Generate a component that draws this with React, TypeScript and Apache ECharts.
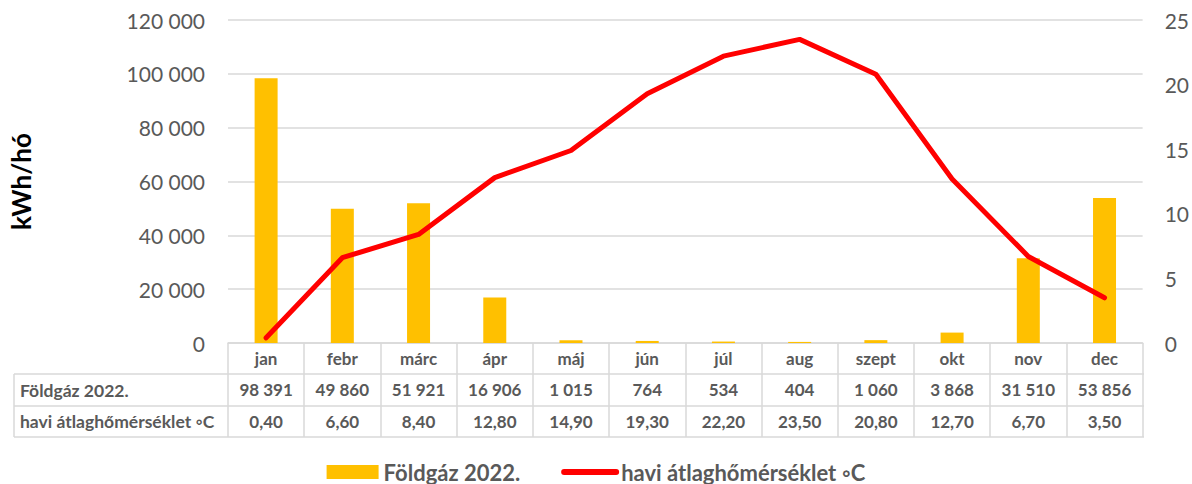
import React, { useEffect, useRef } from "react";
import * as echarts from "echarts";

const months = ["jan", "febr", "márc", "ápr", "máj", "jún", "júl", "aug", "szept", "okt", "nov", "dec"];
const gasValues = [98391, 49860, 51921, 16906, 1015, 764, 534, 404, 1060, 3868, 31510, 53856];
const tempValues = [0.4, 6.6, 8.4, 12.8, 14.9, 19.3, 22.2, 23.5, 20.8, 12.7, 6.7, 3.5];
const gasName = "Földgáz 2022.";
const tempName = "havi átlaghőmérséklet ◦C";
const yAxisTitle = "kWh/hó";

const FONT = 'Lato, "Open Sans", "Noto Sans", sans-serif';
const GRAY = "#595959";
const LINE = "#d9d9d9";

const GRID_LEFT = 221;
const GRID_RIGHT_X = 1144;
const GRID_TOP = 20;
const GRID_BOTTOM_Y = 343;
const ROW1 = 374;
const ROW2 = 406;
const ROW3 = 437;
const TABLE_LEFT = 14;

const fmtThousands = (n: number) => String(n).replace(/\B(?=(\d{3})+(?!\d))/g, " ");
const fmtTemp = (v: number) => v.toFixed(2).replace(".", ",");

export default function App() {
  const ref = useRef<HTMLDivElement>(null);

  useEffect(() => {
    if (!ref.current) return;
    const chart = echarts.init(ref.current, undefined, { renderer: "svg" });

    const tableLineStyle = { stroke: LINE, lineWidth: 1.5 };
    const hLine = (y: number) => ({
      type: "line",
      shape: { x1: TABLE_LEFT, y1: y, x2: GRID_RIGHT_X, y2: y },
      style: tableLineStyle,
      silent: true,
    });

    const rowLabel = (text: string, y: number) => ({
      type: "text",
      x: 20,
      y,
      style: {
        text,
        fontFamily: FONT,
        fontSize: 17.5,
        fontWeight: "bold",
        fill: GRAY,
        align: "left",
        verticalAlign: "middle",
      },
      silent: true,
    });

    const tableAxis = (data: string[], offset: number) => ({
      type: "category",
      data,
      position: "bottom",
      offset,
      gridIndex: 0,
      axisLine: { show: false },
      axisTick: { show: false },
      axisLabel: {
        interval: 0,
        margin: 15,
        verticalAlign: "middle",
        fontFamily: FONT,
        fontSize: 17,
        fontWeight: "bold",
        color: GRAY,
      },
      splitLine: { show: false },
    });

    chart.setOption({
      animation: false,
      backgroundColor: "#ffffff",
      textStyle: { fontFamily: FONT },
      grid: {
        left: GRID_LEFT,
        right: 1192 - GRID_RIGHT_X,
        top: GRID_TOP,
        bottom: 484 - GRID_BOTTOM_Y,
        containLabel: false,
      },
      legend: {
        left: "center",
        top: 456,
        itemWidth: 52,
        itemHeight: 14,
        itemGap: 41,
        textStyle: { fontFamily: FONT, fontSize: 22, fontWeight: "bold", color: GRAY },
        data: [
          { name: gasName, icon: "rect" },
          {
            name: tempName,
            itemStyle: { opacity: 0 },
            lineStyle: { width: 6, cap: "round", color: "#FF0000" },
          },
        ],
      },
      xAxis: [
        {
          type: "category",
          data: months,
          position: "bottom",
          axisLine: { show: true, lineStyle: { color: LINE, width: 1.5 } },
          axisTick: {
            show: true,
            interval: 0,
            alignWithLabel: false,
            inside: false,
            length: ROW3 - GRID_BOTTOM_Y,
            lineStyle: { color: LINE, width: 1.5 },
          },
          axisLabel: {
            interval: 0,
            margin: 15,
            verticalAlign: "middle",
            fontFamily: FONT,
            fontSize: 17,
            fontWeight: "bold",
            color: GRAY,
          },
        },
        tableAxis(gasValues.map(fmtThousands), ROW1 - GRID_BOTTOM_Y),
        tableAxis(tempValues.map(fmtTemp), ROW2 - GRID_BOTTOM_Y),
      ],
      yAxis: [
        {
          type: "value",
          min: 0,
          max: 120000,
          interval: 20000,
          name: yAxisTitle,
          nameLocation: "middle",
          nameRotate: 90,
          nameGap: 194,
          nameTextStyle: { fontFamily: FONT, fontSize: 26, fontWeight: "bold", color: "#000000" },
          axisLine: { show: false },
          axisTick: { show: false },
          axisLabel: {
            margin: 23,
            fontFamily: FONT,
            fontSize: 21,
            color: GRAY,
            formatter: (v: number) => fmtThousands(v),
          },
          splitLine: { show: true, lineStyle: { color: LINE, width: 1.5 } },
        },
        {
          type: "value",
          min: 0,
          max: 25,
          interval: 5,
          position: "right",
          axisLine: { show: false },
          axisTick: { show: false },
          axisLabel: { margin: 22, fontFamily: FONT, fontSize: 21, color: GRAY },
          splitLine: { show: false },
        },
      ],
      series: [
        {
          name: gasName,
          type: "bar",
          data: gasValues,
          xAxisIndex: 0,
          yAxisIndex: 0,
          barWidth: 23,
          itemStyle: { color: "#FFC000" },
        },
        {
          name: tempName,
          type: "line",
          data: tempValues,
          xAxisIndex: 0,
          yAxisIndex: 1,
          symbol: "none",
          lineStyle: { color: "#FF0000", width: 5, cap: "round", join: "round" },
          itemStyle: { color: "#FF0000" },
        },
      ],
      graphic: [
        hLine(ROW1),
        hLine(ROW2),
        hLine(ROW3),
        {
          type: "line",
          shape: { x1: TABLE_LEFT, y1: ROW1, x2: TABLE_LEFT, y2: ROW3 },
          style: tableLineStyle,
          silent: true,
        },
        rowLabel(gasName, (ROW1 + ROW2) / 2),
        rowLabel(tempName, (ROW2 + ROW3) / 2),
      ],
    });

    return () => chart.dispose();
  }, []);

  return (
    <div
      ref={ref}
      style={{ position: "absolute", left: 0, top: 0, width: 1192, height: 484 }}
    />
  );
}
